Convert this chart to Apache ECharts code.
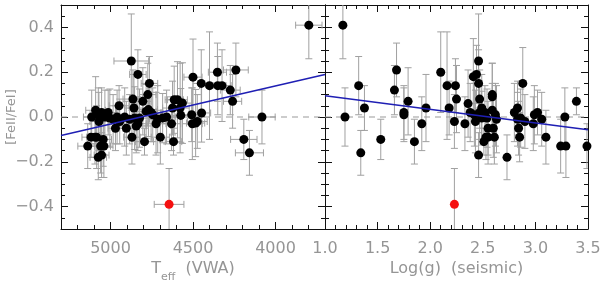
<!DOCTYPE html>
<html>
<head>
<meta charset="utf-8">
<script src="https://cdn.jsdelivr.net/npm/echarts@6/dist/echarts.min.js"></script>
<style>html,body{margin:0;padding:0;background:#fff}#c{width:600px;height:283px}</style>
</head>
<body>
<div id="c"></div>
<script>
// ---- tick labels ----
const teffTicks = [5000, 4500, 4000];
const loggTicks = [1.0, 1.5, 2.0, 2.5, 3.0, 3.5];
const fehTicks = [-0.4, -0.2, 0.0, 0.2, 0.4];

// ---- left panel: Teff vs [FeII/FeI] ----
const teff = [5138,5114,5118,5094,5090,5084,5074,5070,5074,5054,5060,5044,5040,5054,5034,5014,5004,4984,4970,4960,4948,4944,4914,4904,4884,4874,4870,4864,4858,4854,4844,4834,4834,4824,4804,4794,4784,4774,4770,4764,4754,4744,4724,4714,4698,4684,4660,4630,4624,4618,4614,4594,4578,4574,4564,4500,4508,4504,4484,4474,4450,4448,4400,4352,4350,4324,4274,4260,4240,4192,4158,4082,3798];
const feLeft = [-0.13,0.00,-0.09,-0.09,0.03,-0.09,0.01,-0.02,-0.18,-0.17,-0.13,-0.10,-0.13,0.02,0.00,0.02,-0.005,-0.01,-0.05,0.00,0.05,-0.02,0.00,-0.05,-0.01,0.25,-0.09,0.08,0.04,-0.005,-0.04,0.19,-0.03,-0.005,0.07,-0.11,0.025,0.10,0.033,0.15,0.02,0.01,-0.03,-0.01,-0.09,-0.005,0.00,-0.03,0.04,-0.11,0.077,0.077,0.04,0.007,0.062,0.178,0.01,-0.03,-0.027,-0.02,0.15,0.018,0.14,0.20,0.14,0.14,0.12,0.07,0.21,-0.10,-0.16,0.00,0.41];
const eTeff = [60,50,55,50,60,45,50,55,50,45,60,50,55,50,60,50,55,50,45,55,60,50,50,60,55,105,50,60,55,50,60,50,55,60,50,55,60,50,55,50,60,55,60,50,55,60,55,55,60,50,55,60,55,50,60,55,50,60,55,60,50,55,60,55,50,55,60,55,75,80,85,80,80];
const eFeLeft = [0.10,0.12,0.09,0.12,0.15,0.14,0.12,0.13,0.10,0.10,0.12,0.12,0.14,0.11,0.12,0.10,0.13,0.11,0.10,0.12,0.09,0.10,0.13,0.12,0.11,0.21,0.12,0.13,0.15,0.14,0.12,0.11,0.12,0.13,0.15,0.06,0.12,0.14,0.12,0.12,0.13,0.12,0.14,0.15,0.12,0.11,0.12,0.12,0.12,0.06,0.15,0.17,0.20,0.12,0.18,0.17,0.12,0.16,0.15,0.12,0.15,0.13,0.24,0.13,0.13,0.16,0.11,0.12,0.12,0.09,0.10,0.12,0.15];
const redTeff = [4645], redFeLeft = [-0.39], redETeff = [90], redEFeLeft = [0.16];
const fitLeftX = [5300, 3700], fitLeftY = [-0.083, 0.190];

// ---- right panel: log g vs [FeII/FeI] ----
const logg = [1.17,1.19,1.32,1.34,1.375,1.53,1.66,1.68,1.75,1.75,1.79,1.85,1.92,1.96,2.10,2.16,2.18,2.23,2.24,2.25,2.33,2.36,2.38,2.41,2.42,2.44,2.43,2.46,2.46,2.46,2.47,2.47,2.49,2.49,2.51,2.52,2.53,2.54,2.55,2.55,2.59,2.59,2.59,2.60,2.61,2.62,2.63,2.73,2.80,2.83,2.83,2.84,2.85,2.86,2.88,2.90,2.98,2.99,3.02,3.06,3.10,3.24,3.29,3.28,3.39,3.49];
const feRight = [0.41,0.00,0.14,-0.16,0.04,-0.10,0.12,0.21,0.02,0.01,0.07,-0.11,-0.03,0.04,0.20,0.14,0.04,-0.02,0.14,0.08,-0.03,0.06,0.02,0.18,0.01,0.19,-0.02,0.15,0.25,-0.17,0.08,0.02,0.04,-0.005,-0.11,0.02,-0.09,-0.005,-0.09,-0.05,0.09,0.10,0.03,-0.05,-0.09,0.01,-0.01,-0.18,0.02,0.04,-0.01,-0.05,-0.09,-0.005,0.15,-0.02,-0.03,0.01,0.02,-0.01,-0.09,-0.13,-0.13,0.00,0.07,-0.13];
const eFeRight = [0.15,0.13,0.13,0.10,0.10,0.09,0.11,0.12,0.12,0.12,0.15,0.10,0.12,0.15,0.18,0.24,0.12,0.12,0.12,0.15,0.12,0.15,0.13,0.17,0.14,0.13,0.14,0.15,0.21,0.10,0.13,0.12,0.15,0.12,0.06,0.12,0.10,0.13,0.12,0.12,0.15,0.14,0.12,0.13,0.12,0.14,0.15,0.10,0.13,0.12,0.12,0.12,0.11,0.13,0.16,0.12,0.12,0.13,0.10,0.12,0.12,0.12,0.14,0.13,0.06,0.10];
const redLogg = [2.23], redFeRight = [-0.39], redEFeRight = [0.16];
const fitRightX = [1.0, 3.5], fitRightY = [0.095, -0.057];

function steps(a, b, s) { const r = []; const n = Math.round((b - a) / s); for (let i = 0; i <= n; i++) r.push(+(a + i * s).toFixed(4)); return r; }

const LBL = '#959595', AX = '#111', EB = '#a0a0a0';
const FONT = 'DejaVu Sans';

function xAxesFor(grid, min, max, inverse, majors, minors, name, nameRich) {
  const base = { type: 'value', gridIndex: grid, min, max, inverse, splitLine: { show: false } };
  return [
    Object.assign({}, base, { position: 'bottom',
      axisLine: { show: true, onZero: false, lineStyle: { color: AX, width: 1 } },
      axisTick: { show: true, inside: true, length: 7, customValues: majors, lineStyle: { color: AX } },
      axisLabel: { show: true, customValues: majors, margin: 12, color: LBL, fontFamily: FONT, fontSize: 16,
        formatter: v => (Math.abs(v) < 10 ? v.toFixed(1) : String(v)) },
      name, nameLocation: 'middle', nameGap: 32, nameMoveOverlap: false, nameTextStyle: { rich: nameRich } }),
    Object.assign({}, base, { position: 'bottom',
      axisLine: { show: false, onZero: false },
      axisTick: { show: true, inside: true, length: 4, customValues: minors, lineStyle: { color: AX } },
      axisLabel: { show: false } }),
    Object.assign({}, base, { position: 'top',
      axisLine: { show: true, onZero: false, lineStyle: { color: AX, width: 1 } },
      axisTick: { show: true, inside: true, length: 7, customValues: majors, lineStyle: { color: AX } },
      axisLabel: { show: false } }),
    Object.assign({}, base, { position: 'top',
      axisLine: { show: false, onZero: false },
      axisTick: { show: true, inside: true, length: 4, customValues: minors, lineStyle: { color: AX } },
      axisLabel: { show: false } })
  ];
}
function yAxesFor(grid, showLabels) {
  const base = { type: 'value', gridIndex: grid, min: -0.5, max: 0.5, splitLine: { show: false } };
  const minors = steps(-0.5, 0.5, 0.05);
  const left = Object.assign({}, base, { position: 'left',
      axisLine: { show: true, onZero: false, lineStyle: { color: AX, width: 1 } },
      axisTick: { show: true, inside: true, length: 7, customValues: fehTicks, lineStyle: { color: AX } },
      axisLabel: { show: showLabels, customValues: fehTicks, margin: 7, color: LBL, fontFamily: FONT, fontSize: 16,
        formatter: v => (v < -1e-9 ? '\u2212' + Math.abs(v).toFixed(1) : Math.abs(v).toFixed(1)) } });
  if (showLabels) {
    left.name = '[FeII/FeI]'; left.nameLocation = 'middle'; left.nameGap = 43; left.nameMoveOverlap = false;
    left.nameTextStyle = { color: LBL, fontFamily: FONT, fontSize: 13 };
  }
  return [
    left,
    Object.assign({}, base, { position: 'left', axisLine: { show: false, onZero: false },
      axisTick: { show: true, inside: true, length: 4, customValues: minors, lineStyle: { color: AX } }, axisLabel: { show: false } }),
    Object.assign({}, base, { position: 'right', axisLine: { show: true, onZero: false, lineStyle: { color: AX, width: 1 } },
      axisTick: { show: true, inside: true, length: 7, customValues: fehTicks, lineStyle: { color: AX } }, axisLabel: { show: false } }),
    Object.assign({}, base, { position: 'right', axisLine: { show: false, onZero: false },
      axisTick: { show: true, inside: true, length: 4, customValues: minors, lineStyle: { color: AX } }, axisLabel: { show: false } })
  ];
}

const nameRichT = {
  t: { fontFamily: FONT, fontSize: 16, color: LBL, lineHeight: 20, verticalAlign: 'top' },
  s: { fontFamily: FONT, fontSize: 11, color: LBL, lineHeight: 11, verticalAlign: 'top', padding: [11, 0, 0, 0] }
};
const nameRichL = {
  t: { fontFamily: FONT, fontSize: 16, color: LBL, lineHeight: 20, verticalAlign: 'top' }
};

function errRender(params, api) {
  const x = api.value(0), y = api.value(1), ex = api.value(2), ey = api.value(3);
  const st = { stroke: EB, lineWidth: 1 };
  const c = api.coord([x, y]);
  const t = api.coord([x, y + ey]), b = api.coord([x, y - ey]);
  const cap = 3.5;
  const ch = [
    { type: 'line', shape: { x1: c[0], y1: t[1], x2: c[0], y2: b[1] }, style: st },
    { type: 'line', shape: { x1: c[0] - cap, y1: t[1], x2: c[0] + cap, y2: t[1] }, style: st },
    { type: 'line', shape: { x1: c[0] - cap, y1: b[1], x2: c[0] + cap, y2: b[1] }, style: st }
  ];
  if (ex > 0) {
    const l = api.coord([x - ex, y]), r = api.coord([x + ex, y]);
    ch.push({ type: 'line', shape: { x1: l[0], y1: c[1], x2: r[0], y2: c[1] }, style: st });
    ch.push({ type: 'line', shape: { x1: l[0], y1: c[1] - cap, x2: l[0], y2: c[1] + cap }, style: st });
    ch.push({ type: 'line', shape: { x1: r[0], y1: c[1] - cap, x2: r[0], y2: c[1] + cap }, style: st });
  }
  return { type: 'group', children: ch };
}

const leftErr = teff.map((v, i) => [v, feLeft[i], eTeff[i], eFeLeft[i]]).concat(redTeff.map((v, i) => [v, redFeLeft[i], redETeff[i], redEFeLeft[i]]));
const rightErr = logg.map((v, i) => [v, feRight[i], 0, eFeRight[i]]).concat(redLogg.map((v, i) => [v, redFeRight[i], 0, redEFeRight[i]]));

const option = {
  animation: false,
  backgroundColor: '#fff',
  grid: [
    { left: 61, top: 5, width: 264, height: 224, outerBoundsMode: 'none', containLabel: false },
    { left: 325, top: 5, width: 263, height: 224, outerBoundsMode: 'none', containLabel: false }
  ],
  xAxis: [].concat(
    xAxesFor(0, 3700, 5300, true, teffTicks, steps(3700, 5300, 100), '{t|T}{s|eff}{t|  (VWA)}', nameRichT),
    xAxesFor(1, 1.0, 3.5, false, loggTicks, steps(1.0, 3.5, 0.1), '{t|Log(g)  (seismic)}', nameRichL)
  ),
  yAxis: [].concat(yAxesFor(0, true), yAxesFor(1, false)),
  series: [
    { type: 'custom', xAxisIndex: 0, yAxisIndex: 0, renderItem: errRender, data: leftErr, clip: true, z: 2,
      encode: { x: 0, y: 1 } },
    { type: 'custom', xAxisIndex: 4, yAxisIndex: 4, renderItem: errRender, data: rightErr, clip: true, z: 2,
      encode: { x: 0, y: 1 } },
    { type: 'line', xAxisIndex: 0, yAxisIndex: 0, data: [[5300, 0], [3700, 0]], symbol: 'none', z: 3,
      lineStyle: { color: '#999', width: 1, type: [6, 5] } },
    { type: 'line', xAxisIndex: 4, yAxisIndex: 4, data: [[1.0, 0], [3.5, 0]], symbol: 'none', z: 3,
      lineStyle: { color: '#999', width: 1, type: [6, 5] } },
    { type: 'scatter', xAxisIndex: 0, yAxisIndex: 0, data: teff.map((v, i) => [v, feLeft[i]]), symbolSize: 9, z: 5,
      itemStyle: { color: '#000', opacity: 1 } },
    { type: 'scatter', xAxisIndex: 4, yAxisIndex: 4, data: logg.map((v, i) => [v, feRight[i]]), symbolSize: 9, z: 5,
      itemStyle: { color: '#000', opacity: 1 } },
    { type: 'scatter', xAxisIndex: 0, yAxisIndex: 0, data: redTeff.map((v, i) => [v, redFeLeft[i]]), symbolSize: 9, z: 6,
      itemStyle: { color: '#f51010', opacity: 1 } },
    { type: 'scatter', xAxisIndex: 4, yAxisIndex: 4, data: redLogg.map((v, i) => [v, redFeRight[i]]), symbolSize: 9, z: 6,
      itemStyle: { color: '#f51010', opacity: 1 } },
    { type: 'line', xAxisIndex: 0, yAxisIndex: 0, data: fitLeftX.map((v, i) => [v, fitLeftY[i]]), symbol: 'none', z: 7,
      lineStyle: { color: '#1f1fb4', width: 1.5 } },
    { type: 'line', xAxisIndex: 4, yAxisIndex: 4, data: fitRightX.map((v, i) => [v, fitRightY[i]]), symbol: 'none', z: 7,
      lineStyle: { color: '#1f1fb4', width: 1.5 } }
  ]
};
const chart = echarts.init(document.getElementById('c'), null, { renderer: 'canvas' });
chart.setOption(option);
</script>
</body>
</html>
